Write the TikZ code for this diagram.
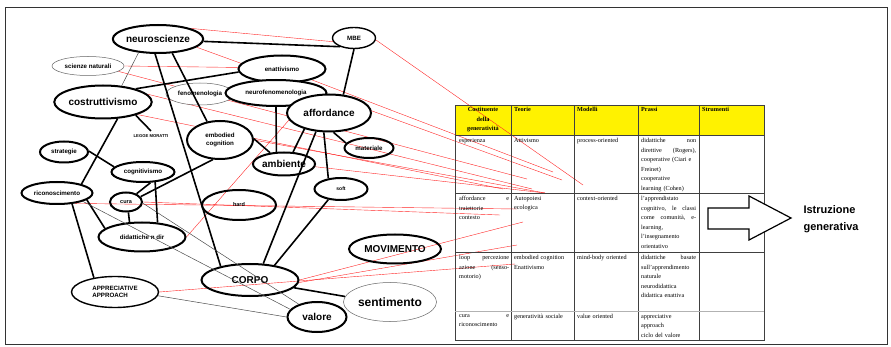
\documentclass[tikz,border=0pt]{standalone}
\usepackage{fontspec}
\setmainfont{Liberation Serif}
\setsansfont{Liberation Sans}
\usetikzlibrary{shapes,positioning,calc,backgrounds}
\tikzset{
bubble/.style={ellipse, draw, line width=2pt, fill=white, inner sep=0pt,
  font=\sffamily\bfseries\fontsize{6.2}{7.5}\selectfont}, % every concept of the map
hollow/.style={fill=none}, % red links show through these
faint/.style={line width=0.5pt, draw=gray!80!black}, % the grey, thin ellipses
big/.style={font=\sffamily\bfseries\fontsize{10}{10}\selectfont},
link/.style={line width=1.6pt},
thinlink/.style={line width=0.5pt, draw=gray!60!black},
redlink/.style={line width=0.4pt, draw=red!85!white},
cell/.style={anchor=north west, inner sep=0pt, text width=#1, align=left,
  font=\fontsize{6.2}{9.6}\selectfont},
head/.style={cell=#1, font=\bfseries\fontsize{6.2}{9.6}\selectfont},
}

\begin{document}
\begin{tikzpicture}[x=1pt, y=-1pt]
\useasboundingbox (0,0) rectangle (891,347);
\draw[line width=0.8pt, gray!40!black] (5,7) rectangle (887,344);

% the map
\node[bubble, faint, minimum width=72, minimum height=19] (scienze) at (88,66) {scienze naturali};
\node[bubble, faint, minimum width=68, minimum height=22] (fenomenologia) at (200,94) {fenomenologia};
\node[bubble, big, minimum width=90, minimum height=28] (neuroscienze) at (158,39) {neuroscienze};
\node[bubble, line width=1.4pt, minimum width=43, minimum height=21] (MBE) at (354,38) {MBE};
\node[bubble, minimum width=87, minimum height=27] (enattivismo) at (282,69) {enattivismo};
\node[bubble, minimum width=101, minimum height=26] (neurofen) at (276,93) {neurofenomenologia};
\node[bubble, big, minimum width=87, minimum height=33] (costruttivismo) at (103,102) {costruttivismo};
\node[bubble, big, minimum width=84, minimum height=37] (affordance) at (329,113) {affordance};
\node[font=\sffamily\bfseries\fontsize{4.2}{5}\selectfont] (legge) at (151,136) {LEGGE MORATTI};
\node[bubble, align=center, minimum width=66, minimum height=38] (embodied) at (220,140) {embodied\\cognition};
\node[bubble, minimum width=48, minimum height=21] (strategie) at (64,152) {strategie};
\node[bubble, minimum width=63, minimum height=20] (cognitivismo) at (143,172) {cognitivismo};
\node[bubble, big, minimum width=55, minimum height=23] (ambiente) at (284,164) {ambiente};
\node[bubble, hollow, minimum width=49, minimum height=20] (materiale) at (369,148) {materiale};
\node[bubble, minimum width=71, minimum height=22] (riconoscimento) at (57,193) {riconoscimento};
\node[bubble, font=\sffamily\bfseries\fontsize{5}{6}\selectfont, minimum width=53, minimum height=22] (soft) at (341,189) {soft};
\node[bubble, hollow, font=\sffamily\bfseries\fontsize{5.5}{6}\selectfont, minimum width=32, minimum height=19] (cura) at (126,202) {cura};
\node[bubble, hollow, font=\sffamily\bfseries\fontsize{5.5}{6}\selectfont, minimum width=74, minimum height=30] (hard) at (239,205) {hard};
\node[bubble, minimum width=87, minimum height=29] (didattiche) at (142,237) {didattiche n dir};
\node[bubble, hollow, big, minimum width=92, minimum height=29] (movimento) at (395,249) {MOVIMENTO};
\node[bubble, hollow, big, minimum width=97, minimum height=32] (corpo) at (250,280) {CORPO};
\node[bubble, hollow, line width=1.4pt, align=left, minimum width=87, minimum height=31] (appreciative) at (115,292) {APPRECIATIVE\\APPROACH};
\node[bubble, faint, font=\sffamily\bfseries\fontsize{12}{12}\selectfont, minimum width=93, minimum height=39] (sentimento) at (390,302) {sentimento};
\node[bubble, big, minimum width=59, minimum height=30] (valore) at (317,317) {valore};

% black links
\draw[link] (neuroscienze.-3) -- (MBE.212);
\draw[thinlink] (neuroscienze.215) -- (costruttivismo.41);
\draw[link] (neuroscienze.315) -- (embodied.125);
\draw[link] (neuroscienze.259) -- (corpo.155);
\draw[link] (costruttivismo.22) -- (enattivismo.184);
\draw[link] (costruttivismo.311) -- (riconoscimento.20);
\draw[link] (costruttivismo.338) -- (legge.north);
\draw[link] (strategie.2) -- (cognitivismo.170);
\draw[link] (MBE.270) -- (affordance.52);
\draw[link] (neurofen.270) -- (ambiente.122);
\draw[link] (embodied.2) -- (ambiente.141);
\draw[link] (affordance.213) -- (ambiente.53);
\draw[link] (affordance.235) -- (corpo.51);
\draw[link] (affordance.255) -- (soft.140);
\draw[link] (affordance.283) -- (materiale.168);
\draw[link] (soft.220) -- (corpo.31);
\draw[link] (embodied.250) -- (cura.20);
\draw[link] (cognitivismo.305) -- (cura.38);
\draw[link] (cognitivismo.320) -- (didattiche.43);
\draw[link] (cura.283) -- (didattiche.130);
\draw[link] (riconoscimento.347) -- (didattiche.167);
\draw[link] (riconoscimento.324) -- (appreciative.146);
\draw[link] (corpo.350) -- (sentimento.173);
\draw[thinlink] (riconoscimento.342) -- (valore.164);
\draw[thinlink] (cura.356) -- (valore.145);
\draw[thinlink] (appreciative.355) -- (valore.180);

% the table
\draw[line width=0.5pt, gray!50!black] (455,105) rectangle (764,340)
  (455,135) -- (764,135) (455,193) -- (764,193) (455,252) -- (764,252)
  (511,105) -- (511,340) (574,105) -- (574,340) (638,105) -- (638,340) (699,105) -- (699,340);
\draw[line width=1pt, gray!60] (455,311) -- (764,311);

\node[head=52, align=center, anchor=north] (hcost) at (483,107) {Costituente\\della\\generatività};
\node[head=58] (hteorie) at (514,107) {Teorie};
\node[head=58] (hmodelli) at (577,107) {Modelli};
\node[head=56] (hprassi) at (641,107) {Prassi};
\node[head=58] (hstrum) at (702,107) {Strumenti};

\node[cell=50] (c11) at (459,138) {esperienza};
\node[cell=58] (c12) at (514,138) {Attivismo};
\node[cell=60] (c13) at (577,138) {process-oriented};
\node[cell=55] (c14) at (641,138) {didattiche\hfill non\\ direttive\hfill (Rogers),\\ cooperative (Ciari e\\ Freinet)\\ cooperative\\ learning (Cohen)};

\node[cell=50] (c21) at (459,196) {affordance\hfill e\\ traiettorie\\ contesto};
\node[cell=58] (c22) at (514,196) {Autopoiesi\\ ecologica};
\node[cell=60] (c23) at (577,196) {context-oriented};
\node[cell=55] (c24) at (641,196) {l'apprendistato\\ cognitivo,\hfill le\hfill classi\\ come\hfill comunità,\hfill e-\\ learning,\\ l'insegnamento\\ orientativo};

\node[cell=50] (c31) at (459,255) {loop\hfill percezione\\ azione\hfill (senso-\\ motorio)};
\node[cell=58] (c32) at (514,255) {embodied cognition\\ Enattivismo};
\node[cell=60] (c33) at (577,255) {mind-body oriented};
\node[cell=55] (c34) at (641,255) {didattiche\hfill basate\\ sull'apprendimento\\ naturale\\ neurodidattica\\ didattica enattiva};

\node[cell=50] (c41) at (459,314) {cura\hfill e\\ riconoscimento};
\node[cell=58] (c42) at (514,314) {generatività sociale};
\node[cell=60] (c43) at (577,314) {value oriented};
\node[cell=55] (c44) at (641,314) {appreciative\\ approach\\ ciclo del valore};

% the arrow and its words
\draw[line width=1.2pt, fill=white] (708,208) -- (749,208) -- (749,196) -- (791,218)
  -- (749,240) -- (749,229) -- (708,229) -- cycle;
\node[anchor=west, align=left, font=\sffamily\bfseries\fontsize{11}{17.5}\selectfont] (istruzione) at (800,219) {Istruzione\\generativa};

% where the red links end in the table
\coordinate (tMBE) at (583,185);
\coordinate (tneuro) at (562,180);
\coordinate (tenatt) at (553,172);
\coordinate (tscienze) at (527,179);
\coordinate (tcostr) at (532,189);
\coordinate (tcostrb) at (503,189);
\coordinate (tauto) at (545,193);
\coordinate (tcontesto) at (517,209);
\coordinate (tcura) at (500,215);
\coordinate (tloop) at (523,222);
\coordinate (tloopb) at (517,245);
\coordinate (tappr) at (515,264);

% red links, under the filled ellipses
\begin{pgfonlayer}{background}
\fill[yellow] (455,105) rectangle (764,135);
\draw[redlink] (neuroscienze.18) -- (MBE.190);
\draw[redlink] (MBE.-5) -- (tMBE);
\draw[redlink] (neuroscienze.-12) -- (tneuro);
\draw[redlink] (enattivismo.-20) -- (tenatt);
\draw[redlink] (scienze.east) -- (enattivismo.178);
\draw[redlink] (scienze.-10) -- (tscienze);
\draw[redlink] (costruttivismo.10) -- (tcostr);
\draw[redlink] (costruttivismo.-20) -- (tcostrb);
\draw[redlink] (embodied.east) -- (tauto);
\draw[redlink] (ambiente.-5) -- (tauto);
\draw[redlink] (riconoscimento.-30) -- (tcontesto);
\draw[redlink] (cura.east) -- (tcura);
\draw[redlink] (corpo.east) -- (tloop);
\draw[redlink] (corpo.-3) -- (tloopb);
\draw[redlink] (appreciative.east) -- (tappr);
\draw[redlink] (didattiche.east) -- (affordance.190);
\end{pgfonlayer}
\end{tikzpicture}
\end{document}
